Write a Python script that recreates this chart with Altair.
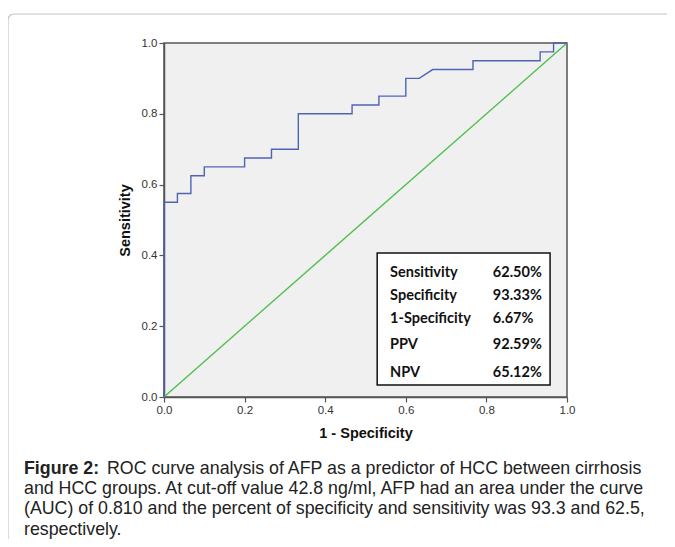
import altair as alt
import pandas as pd

# ROC curve vertices (1 - specificity, sensitivity)
roc_fpr = [0.0, 0.0, 0.0333, 0.0333, 0.0667, 0.0667, 0.1, 0.1, 0.2, 0.2,
           0.2667, 0.2667, 0.3333, 0.3333, 0.4667, 0.4667, 0.5333, 0.5333,
           0.6, 0.6, 0.6333, 0.6667, 0.7667, 0.7667, 0.9333, 0.9333,
           0.9667, 0.9667, 1.0]
roc_tpr = [0.0, 0.55, 0.55, 0.575, 0.575, 0.625, 0.625, 0.65, 0.65, 0.675,
           0.675, 0.70, 0.70, 0.80, 0.80, 0.825, 0.825, 0.85, 0.85, 0.90,
           0.90, 0.925, 0.925, 0.95, 0.95, 0.975, 0.975, 1.0, 1.0]

ref_x = [0.0, 1.0]
ref_y = [0.0, 1.0]

stat_labels = ["Sensitivity", "Specificity", "1-Specificity", "PPV", "NPV"]
stat_values = ["62.50%", "93.33%", "6.67%", "92.59%", "65.12%"]

axis_ticks = [0.0, 0.2, 0.4, 0.6, 0.8, 1.0]

caption_bold = "Figure 2:"
caption_lines = [
    "ROC curve analysis of AFP as a predictor of HCC between cirrhosis",
    "and HCC groups. At cut-off value 42.8 ng/ml, AFP had an area under the curve",
    "(AUC) of 0.810 and the percent of specificity and sensitivity was 93.3 and 62.5,",
    "respectively.",
]

# ---- layout (positions in data units for the in-plot table) ----
row_y = [0.350, 0.285, 0.220, 0.147, 0.068]
label_x = 0.561
value_x = 0.816
box = {"x": 0.529, "x2": 0.958, "y": 0.034, "y2": 0.407}

W, H = 403, 354

xs = alt.Scale(domain=[0, 1], nice=False, zero=False)
ys = alt.Scale(domain=[0, 1], nice=False, zero=False)

x_axis = alt.Axis(values=axis_ticks, format=".1f", title="1 - Specificity", grid=False,
                  tickSize=5, labelPadding=2, titlePadding=11, labelFlush=False,
                  labelOverlap=False)
y_axis = alt.Axis(values=axis_ticks, format=".1f", title="Sensitivity", grid=False,
                  tickSize=5, labelPadding=2, titlePadding=9, labelFlush=False,
                  labelOverlap=False)

roc_df = pd.DataFrame({"fpr": roc_fpr, "tpr": roc_tpr, "i": range(len(roc_fpr))})
ref_df = pd.DataFrame({"fpr": ref_x, "tpr": ref_y})

diag = alt.Chart(ref_df).mark_line(color="#4cbf4c", strokeWidth=1.4).encode(
    x=alt.X("fpr:Q", scale=xs, axis=x_axis),
    y=alt.Y("tpr:Q", scale=ys, axis=y_axis),
)

roc = alt.Chart(roc_df).mark_line(color="#5064b4", strokeWidth=1.4).encode(
    x=alt.X("fpr:Q", scale=xs),
    y=alt.Y("tpr:Q", scale=ys),
    order="i:Q",
)

box_df = pd.DataFrame([box])
table_box = alt.Chart(box_df).mark_rect(fill="white", stroke="#111", strokeWidth=1.5).encode(
    x=alt.X("x:Q", scale=xs), x2="x2:Q",
    y=alt.Y("y:Q", scale=ys), y2="y2:Q",
)

tab_df = pd.DataFrame({"label": stat_labels, "value": stat_values, "ry": row_y})
tab_df["lx"] = label_x
tab_df["vx"] = value_x

lab_text = alt.Chart(tab_df).mark_text(align="left", baseline="middle", font="Lato",
                                       fontWeight="bold", fontSize=14.5, color="#111").encode(
    x=alt.X("lx:Q", scale=xs), y=alt.Y("ry:Q", scale=ys), text="label:N")
val_text = alt.Chart(tab_df).mark_text(align="left", baseline="middle", font="Lato",
                                       fontWeight="bold", fontSize=14.5, color="#111").encode(
    x=alt.X("vx:Q", scale=xs), y=alt.Y("ry:Q", scale=ys), text="value:N")

dummy = pd.DataFrame({"d": [0]})

frame = alt.Chart(dummy).mark_rect(fill=None, stroke="#c4c4c4", strokeWidth=1.2,
                                   cornerRadius=6).encode(
    x=alt.value(-156), x2=alt.value(530), y=alt.value(-29), y2=alt.value(530))

cap_layers = []
cap_layers.append(alt.Chart(pd.DataFrame({"t": [caption_bold]})).mark_text(
    align="left", baseline="alphabetic", font="Liberation Sans", fontSize=17.8,
    fontWeight="bold", color="#222").encode(x=alt.value(-140), y=alt.value(431), text="t:N"))
cap_x = [-57, -140, -140, -140]
cap_y = [431, 451.2, 471.4, 491.6]
for txt, cx, cy in zip(caption_lines, cap_x, cap_y):
    cap_layers.append(alt.Chart(pd.DataFrame({"t": [txt]})).mark_text(
        align="left", baseline="alphabetic", font="Liberation Sans", fontSize=17.8,
        color="#222").encode(x=alt.value(cx), y=alt.value(cy), text="t:N"))

chart = alt.layer(frame, diag, roc, table_box, lab_text, val_text, *cap_layers).properties(
    width=W, height=H,
    autosize=alt.AutoSizeParams(type="none"),
    padding={"left": 156, "top": 35, "right": 100, "bottom": 142},
    background="white",
).configure_view(
    fill="#f0f0f0", stroke="#555", strokeWidth=1.5
).configure_axis(
    domainColor="#555", domainWidth=1.5, tickColor="#555", tickWidth=1.2,
    labelFont="Liberation Sans", labelFontSize=11.5, labelColor="#333",
    titleFont="Liberation Sans", titleFontSize=14.5, titleFontWeight="bold", titleColor="#111",
)

chart.save("out.html", embed_options={"renderer": "svg", "actions": False})
